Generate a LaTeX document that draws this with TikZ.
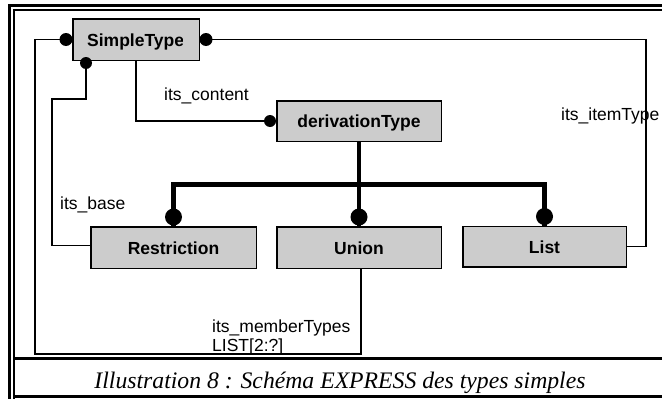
\documentclass[tikz,border=0pt]{standalone}
\usepackage{fontspec}
\setmainfont{Liberation Serif}
\setsansfont{Liberation Sans}
\definecolor{boxgray}{RGB}{204,204,204}
\begin{document}
\begin{tikzpicture}[x=1pt,y=-1pt,
  box/.style={draw=black, line width=1.5pt, fill=boxgray, inner sep=0pt,
    text height=13pt, text depth=0pt,
    font=\sffamily\bfseries\fontsize{17.5}{20}\selectfont},
  link/.style={draw=black, line width=1.7pt},
  bus/.style={draw=black, line width=4.5pt, line join=miter},
  lbl/.style={inner sep=0pt, anchor=base west,
    font=\sffamily\fontsize{17.5}{20}\selectfont},
  boldlbl/.style={lbl, font=\sffamily\bfseries\fontsize{17.5}{20}\selectfont},
  framethick/.style={line width=3pt},
  framethin/.style={line width=2pt}]
\useasboundingbox (0,0) rectangle (662,399);

% page frame and caption rules
\draw[framethick] (9.5,410) -- (9.5,5.5) -- (670,5.5);
\draw[framethin] (14,410) -- (14,10) -- (670,10);
\draw[framethick] (14,358.5) -- (670,358.5);
\draw[framethick] (14,396.5) -- (670,396.5);

% caption
\node[inner sep=0pt, anchor=base, font=\rmfamily\itshape\fontsize{23.7}{28}\selectfont]
  (caption) at (340,388) {Illustration 8 : Schéma EXPRESS des types simples};

% entity boxes
\node[box, minimum width=126.5pt, minimum height=41.5pt] (simple) at (136,39.5) {};
\node[box, minimum width=164.5pt, minimum height=40.5pt] (deriv) at (359,121) {derivationType};
\node[box, minimum width=165.5pt, minimum height=41.5pt] (restr) at (173.5,247.5) {Restriction};
\node[box, minimum width=164.5pt, minimum height=41.5pt] (union) at (359,247.5) {Union};
\node[box, minimum width=163.5pt, minimum height=40.5pt] (list) at (544.5,246.5) {List};

% entity name, cut off by the box text area
\begin{scope}
  \clip (75,20) rectangle (182,60);
  \node[boldlbl] (simplename) at (87,46) {SimpleType};
\end{scope}

% route corners
\coordinate (mtcorner) at (35,354);
\coordinate (itcorner) at (646,39.5);
\coordinate (basecorner) at (52,99);
\coordinate (busline) at (0,184.5);

% attribute relations
\draw[link] ([xshift=2pt]union.south) |- (mtcorner) |- (simple.west);
\draw[link] (list.east) -| (itcorner) -- (simple.east);
\draw[link] ([xshift=-50pt]simple.south) |- (basecorner) |- ([yshift=2pt]restr.west);
\draw[link] (simple.south) |- (deriv.west);

% subtype tree
\draw[bus] (deriv.south) -- (deriv.south |- busline);
\draw[bus] (restr.north) -- (restr.north |- busline) -- (list.north |- busline) -- (list.north);
\draw[bus] (union.north |- busline) -- (union.north);

% relation ends
\fill ([yshift=9pt]restr.north) circle (8.5pt);
\fill ([yshift=9pt]union.north) circle (8.5pt);
\fill ([yshift=9pt]list.north) circle (8.5pt);
\fill ([xshift=-6pt]simple.west) circle (6.5pt);
\fill ([xshift=6pt]simple.east) circle (6.5pt);
\fill ([xshift=-50pt,yshift=-2pt]simple.south) circle (6pt);
\fill ([xshift=-6pt]deriv.west) circle (6pt);

% attribute names
\node[lbl] (lcontent) at (164,100) {its\_content};
\node[lbl] (litem) at (561,120) {its\_itemType};
\node[lbl] (lbase) at (60,209) {its\_base};
\node[lbl] (lmember) at (212,332) {its\_memberTypes};
\node[lbl] (llist) at (212,351) {LIST[2:?]};
\end{tikzpicture}
\end{document}
